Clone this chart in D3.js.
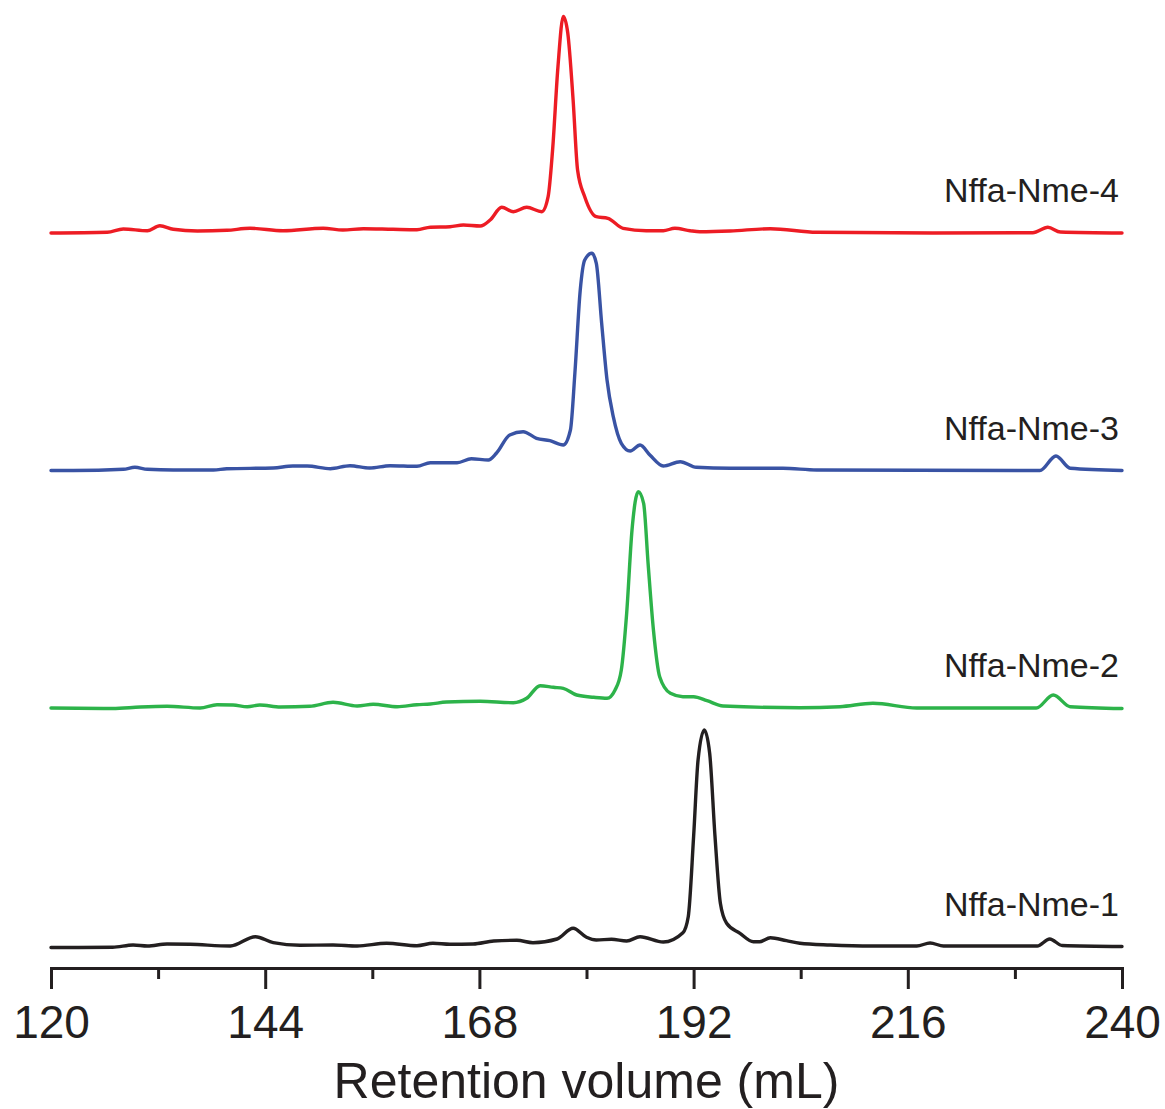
<!DOCTYPE html>
<html>
<head>
<meta charset="utf-8">
<script src="https://cdn.jsdelivr.net/npm/d3@7"></script>
<style>
  body { margin: 0; background: #fff; }
  svg text { font-family: "Liberation Sans", Arial, Helvetica, sans-serif; fill: #231f20; }
</style>
</head>
<body>
<svg id="chart" width="1165" height="1109"></svg>
<script>
// retention volume (mL), signal (arbitrary units)
const nme4 = [[120,0],[126.3,0.7],[128.1,4],[130.8,2.3],[132.2,7.3],[133.7,3.7],[136.4,2],[139.7,2.7],[142.3,4.7],[146,2.3],[150.5,4.7],[152.7,3],[155,4.3],[158.3,3.7],[161,3.3],[162.5,5.8],[164.7,6.3],[166.2,8],[168.1,7],[169.2,13],[170.5,25.7],[171.8,21.3],[173.3,25.7],[175,21.3],[175.7,36.3],[176.2,83],[176.8,166],[177.4,216.5],[177.9,200],[178.5,133],[179,63],[179.8,36.3],[181.1,16.3],[182.4,14.7],[184.1,4.7],[186.7,2.3],[188.6,2.3],[189.9,4.7],[191.6,2.3],[192.7,1.3],[196.1,2],[200.6,4.3],[205.8,0.7],[218.8,0],[230,0.3],[231.7,5.7],[233.1,1],[240,0]];
const nme3 = [[120,0],[122.5,0],[128.1,1.2],[129.4,3.2],[130.8,1.2],[133.7,0.5],[138.2,0.5],[139.7,1.8],[144.9,2.5],[147.1,4.5],[148.7,4.5],[151.3,1.8],[153.5,4.8],[155.7,2.5],[158,4.8],[161,4.2],[162.5,7.8],[165.5,7.8],[167.1,11.8],[169,10.5],[169.9,17.2],[171.4,35.5],[172.9,38.8],[174.4,32.2],[175.9,29.8],[177.4,25.5],[178.2,40.5],[178.7,97.5],[179.3,180.5],[179.8,210.5],[180.6,217.2],[181.1,207.2],[181.7,147.2],[182.3,90.5],[183,53.8],[183.9,27.2],[184.9,19.5],[186,25.5],[187.1,15.5],[188.6,4.5],[190.5,8.8],[192.3,3.2],[196.1,2.2],[202,2.2],[205.8,0.5],[230.8,0],[232.6,14.5],[234.2,2.2],[240,0]];
const nme2 = [[120,0],[126.9,-0.5],[130,1],[133,1.7],[136.7,0],[138.6,3.3],[140.4,3],[142,1.3],[143.4,3],[145.7,1],[149,1.7],[151.6,5.7],[154.3,2],[156.1,3.7],[158.8,1.3],[161,3.3],[162.5,4],[164.3,6],[168.1,6.7],[171.8,5.3],[173.3,9.7],[174.8,22.3],[176.3,20.7],[177.4,19.7],[178.9,13],[180.8,10.7],[182.3,9.7],[183.2,18],[183.9,38],[184.5,94.7],[185.1,178],[185.8,216.3],[186.4,204.7],[186.9,144.7],[187.5,78],[188.2,31.3],[189.4,14.7],[190.8,11.3],[192,11.3],[193.5,7.3],[195.3,2],[203.9,0.3],[208.4,1.3],[212.1,4.7],[217,0],[230.4,0],[232.3,13],[234.2,1.3],[240,-0.5]];
const nme1 = [[120,-1],[126.9,-0.8],[129.2,1.5],[130.8,0.5],[133,2.5],[135.6,2.2],[140.1,0.5],[142.9,9.8],[144.9,3.8],[147.9,1.2],[151.6,1.5],[154.3,0.5],[157.6,3.2],[161,0.8],[162.8,3.2],[164.7,2.2],[167.3,2.5],[169.6,5.5],[172.2,6.2],[174,3.8],[176.7,7.5],[178.5,18.2],[180,9.2],[181.1,6.5],[182.8,7.2],[184.5,5.5],[186,9.8],[188.6,4.5],[190.8,13.8],[191.4,29.8],[192,109.8],[192.5,186.5],[193.2,216.5],[193.8,193.2],[194.4,109.8],[195,43.2],[195.7,23.2],[197.2,13.2],[198.7,4.8],[199.4,4.8],[200.6,8.8],[202.4,5.8],[203.9,3.2],[207.3,1.5],[212,0.5],[217,0.5],[218.5,3.5],[220,0.5],[230.5,0.5],[231.9,7.5],[233.3,1],[240,0]];

const names = ["Nffa-Nme-4", "Nffa-Nme-3", "Nffa-Nme-2", "Nffa-Nme-1"];
const seriesData = [nme4, nme3, nme2, nme1];
const offsets = [735, 497.5, 260, 21.5];
const colors = ["#ed1c24", "#3953a4", "#2db34a", "#231f20"];
const tickValues = d3.range(120, 241, 12);
const labelTicks = [120, 144, 168, 192, 216, 240];

const svg = d3.select("#chart");
const x = d3.scaleLinear().domain([120, 240]).range([51, 1122]);
const y = d3.scaleLinear().domain([0, 968]).range([968, 0]);

const line = d3.line()
  .x(d => x(d[0]))
  .y(d => y(d[1]))
  .curve(d3.curveMonotoneX);

seriesData.forEach((data, i) => {
  const shifted = data.map(d => [d[0], d[1] + offsets[i]]);
  svg.append("path")
    .attr("d", line(shifted))
    .attr("fill", "none")
    .attr("stroke", colors[i])
    .attr("stroke-width", 3.4)
    .attr("stroke-linejoin", "round")
    .attr("stroke-linecap", "round");

  svg.append("text")
    .attr("x", 1119)
    .attr("y", y(offsets[i]) - 31)
    .attr("text-anchor", "end")
    .attr("font-size", 34)
    .text(names[i]);
});

// x axis
const axis = svg.append("g")
  .attr("transform", `translate(0,${y(0)})`)
  .call(d3.axisBottom(x)
    .tickValues(tickValues)
    .tickSizeOuter(0)
    .tickSize(21)
    .tickFormat(d => labelTicks.includes(d) ? d : ""));

axis.attr("font-family", null);
axis.select(".domain").attr("stroke", "#231f20").attr("stroke-width", 3);
axis.selectAll(".tick line")
  .attr("stroke", "#231f20")
  .attr("stroke-width", 3)
  .attr("y2", d => labelTicks.includes(d) ? 21 : 11);
axis.selectAll(".tick text")
  .attr("y", 70)
  .attr("dy", 0)
  .attr("font-size", 46)
  .attr("fill", "#231f20");

svg.append("text")
  .attr("x", (x(120) + x(240)) / 2)
  .attr("y", 1098)
  .attr("text-anchor", "middle")
  .attr("font-size", 50)
  .text("Retention volume (mL)");
</script>
</body>
</html>
